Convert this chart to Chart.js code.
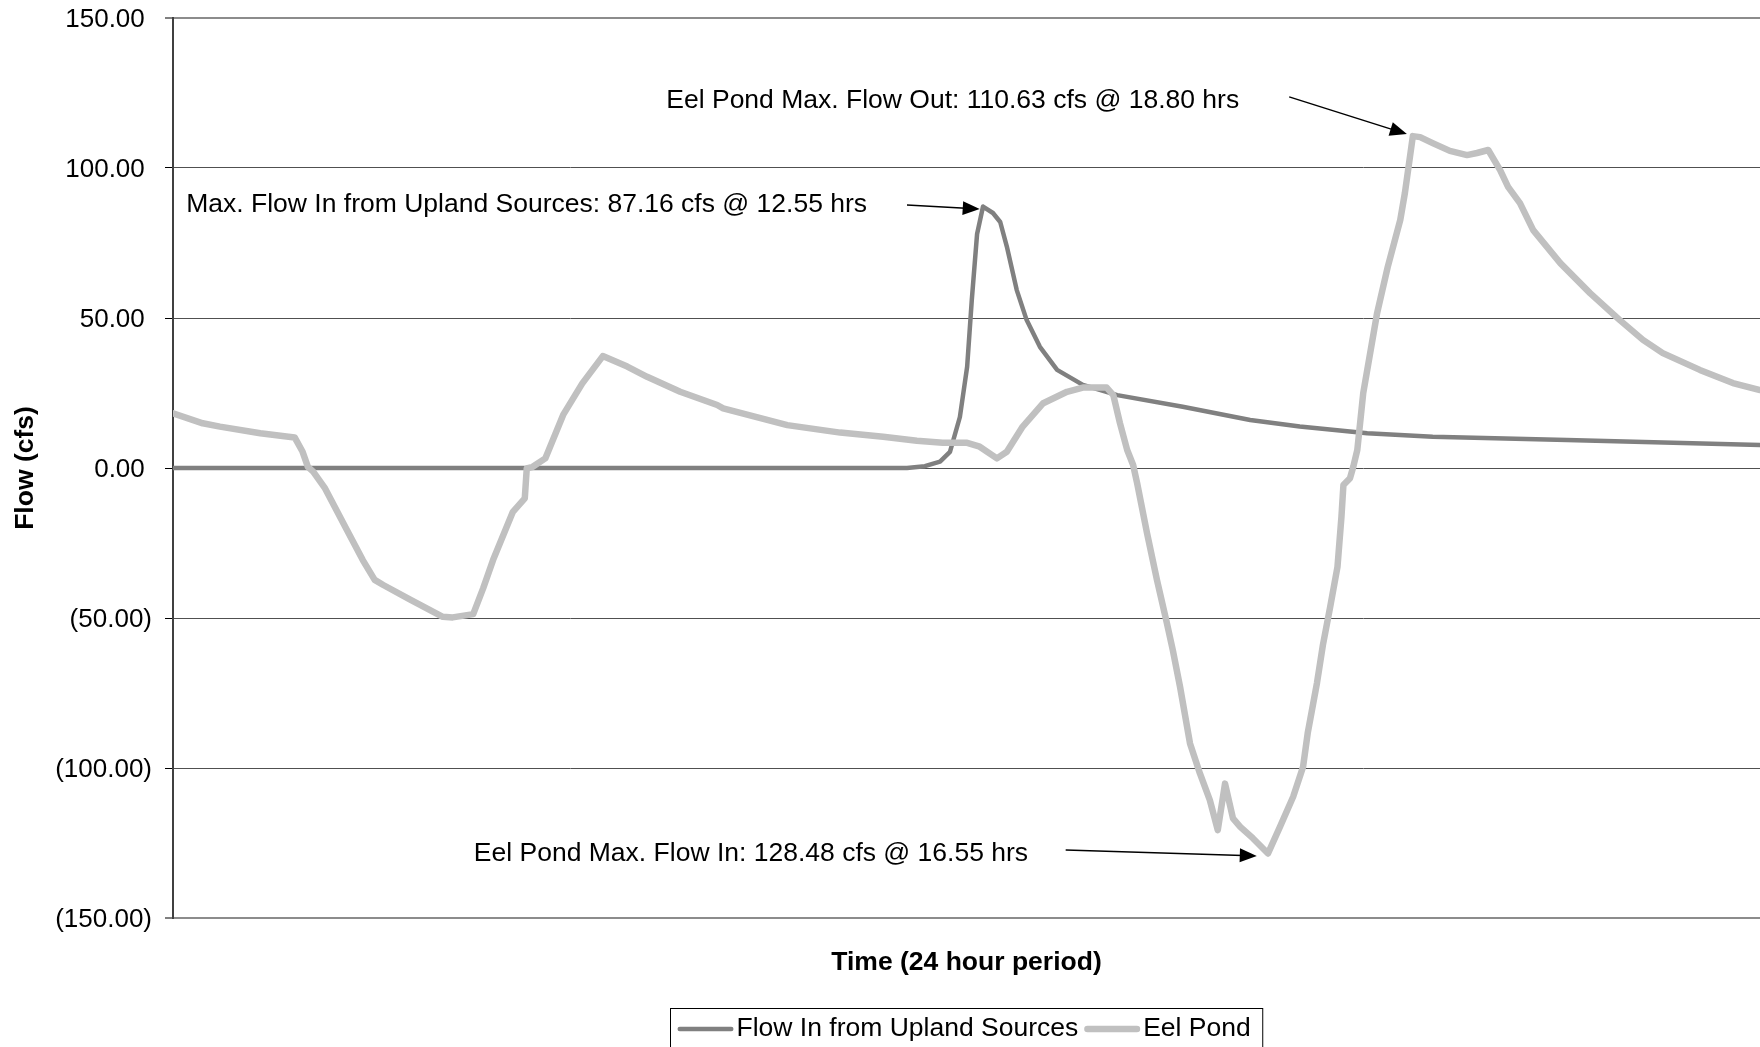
<!DOCTYPE html>
<html>
<head>
<meta charset="utf-8">
<title>Eel Pond Flow</title>
<script src="https://cdn.jsdelivr.net/npm/chart.js@4.4.0/dist/chart.umd.min.js"></script>
<style>
  html, body { margin: 0; padding: 0; background: #fff; }
</style>
</head>
<body>
<canvas id="flowChart" width="1760" height="1047"></canvas>
<script>
// time in hours over the 24 hour period, flow in cfs
const eelHours = [0.00, 0.45, 0.71, 1.32, 1.84, 1.96, 2.04, 2.12, 2.30, 2.63, 2.87, 3.05, 3.18, 3.58, 4.08, 4.23,
  4.54, 4.69, 4.84, 5.14, 5.32, 5.35, 5.44, 5.63, 5.90, 6.19, 6.50, 6.87, 7.17, 7.52, 7.67, 8.23, 8.32, 9.29,
  10.09, 10.74, 11.25, 11.64, 12.01, 12.20, 12.46, 12.61, 12.85, 13.16, 13.52, 13.76, 14.12, 14.22, 14.32,
  14.43, 14.52, 14.58, 14.73, 14.88, 15.03, 15.12, 15.23, 15.38, 15.53, 15.68, 15.80, 15.91, 16.03, 16.14,
  16.33, 16.56, 16.74, 16.94, 17.09, 17.16, 17.30, 17.39, 17.50, 17.61, 17.67, 17.70, 17.80, 17.85, 17.91,
  18.00, 18.21, 18.37, 18.56, 18.63, 18.75, 18.86, 19.05, 19.31, 19.57, 19.72, 19.89, 20.07, 20.19, 20.37,
  20.57, 20.98, 21.43, 21.88, 22.23, 22.53, 23.09, 23.59, 24.00];
const eelFlow = [18.2, 14.9, 13.8, 11.6, 10.2, 5.4, 0.4, -1.2, -6.8, -20.7, -30.7, -37.3, -39.0, -43.8, -49.6, -49.8,
  -48.7, -40.1, -30.7, -14.6, -10.1, -0.1, 0.4, 3.2, 17.7, 28.2, 37.3, 33.8, 30.4, 26.9, 25.4, 21.0, 19.9, 14.3,
  11.8, 10.4, 9.1, 8.4, 8.4, 7.1, 3.2, 5.4, 13.8, 21.6, 25.4, 26.8, 26.8, 24.3, 15.0,
  6.0, 1.0, -5.0, -21.7, -37.3, -51.7, -60.7, -73.0, -91.8, -101.8, -110.7, -120.7, -105.2, -116.8, -119.6,
  -123.4, -128.48, -119.6, -109.6, -99.6, -88.4, -71.7, -59.0, -46.3, -33.0, -16.3, -5.7, -3.4, 0.5, 6.0,
  25.0, 51.7, 67.0, 82.7, 91.7, 110.63, 110.3, 108.3, 105.7, 104.3, 105.0, 106.0, 99.3, 93.7, 88.3,
  79.3, 68.3, 58.3, 49.3, 42.7, 38.3, 32.7, 28.3, 26.0];

const uplandHours = [0.00, 11.10, 11.37, 11.60, 11.75, 11.90, 12.01, 12.08, 12.16, 12.25, 12.40, 12.51, 12.61,
  12.76, 12.91, 13.11, 13.37, 13.76, 14.28, 15.27, 16.29, 17.04, 18.06, 19.05, 21.08, 24.00];
const uplandFlow = [0, 0, 0.6, 2.1, 5.4, 17.0, 33.8, 56.0, 78.0, 87.16, 85.0, 82.0, 73.8,
  59.3, 49.3, 40.4, 32.7, 27.7, 24.3, 20.4, 16.0, 13.8, 11.6, 10.4, 9.3, 7.7];

const yTicks = [150, 100, 50, 0, -50, -100, -150];

const notes = [
  { text: 'Eel Pond Max. Flow Out: 110.63 cfs @ 18.80 hrs', at: [7.46, 122.4], from: [16.88, 123.7], to: [18.66, 111.3] },
  { text: 'Max. Flow In from Upland Sources: 87.16 cfs @ 12.55 hrs', at: [0.20, 87.8], from: [11.10, 87.7], to: [12.20, 86.3] },
  { text: 'Eel Pond Max. Flow In: 128.48 cfs @ 16.55 hrs', at: [4.55, -128.6], from: [13.50, -127.3], to: [16.39, -129.3] }
];

const FONT = '"Liberation Sans", Arial, sans-serif';
Chart.defaults.font.family = FONT;
Chart.defaults.font.size = 26.5;
Chart.defaults.color = '#000';

const toPoints = (xs, ys) => xs.map((h, i) => ({ x: h, y: ys[i] }));

function fmt(v) {
  const s = Math.abs(v).toFixed(2);
  return v < 0 ? '(' + s + ')' : s + ' ';
}

const extrasPlugin = {
  id: 'extras',
  afterDraw(chart) {
    const { ctx, chartArea, scales: { x, y } } = chart;
    ctx.save();
    ctx.font = '26.5px ' + FONT;
    ctx.fillStyle = '#000';
    ctx.strokeStyle = '#000';
    ctx.textBaseline = 'middle';

    notes.forEach(n => {
      ctx.fillText(n.text, x.getPixelForValue(n.at[0]), y.getPixelForValue(n.at[1]));
      const x1 = x.getPixelForValue(n.from[0]), y1 = y.getPixelForValue(n.from[1]);
      const x2 = x.getPixelForValue(n.to[0]), y2 = y.getPixelForValue(n.to[1]);
      const a = Math.atan2(y2 - y1, x2 - x1), c = Math.cos(a), s = Math.sin(a);
      ctx.lineWidth = 1.5;
      ctx.beginPath();
      ctx.moveTo(x1, y1);
      ctx.lineTo(x2 - 14 * c, y2 - 14 * s);
      ctx.stroke();
      ctx.beginPath();
      ctx.moveTo(x2, y2);
      ctx.lineTo(x2 - 17 * c + 7 * s, y2 - 17 * s - 7 * c);
      ctx.lineTo(x2 - 17 * c - 7 * s, y2 - 17 * s + 7 * c);
      ctx.closePath();
      ctx.fill();
    });

    // legend box under the axis title
    const items = chart.data.datasets.map(d => ({
      label: d.label, color: d.borderColor, width: d.borderWidth, w: ctx.measureText(d.label).width
    }));
    const sample = 56, gap = 3, sep = 6, padL = 7, padR = 12;
    let total = padL + padR + sep * (items.length - 1);
    items.forEach(it => { total += sample + gap + it.w; });
    const boxLeft = Math.round((chartArea.left + chartArea.right) / 2 - total / 2) + 0.5;
    const boxTop = 1008.5, rowY = 1029;
    ctx.lineWidth = 1;
    ctx.strokeStyle = '#000';
    ctx.strokeRect(boxLeft, boxTop, total, 80);
    let cx = boxLeft + padL;
    items.forEach(it => {
      ctx.strokeStyle = it.color;
      ctx.lineWidth = it.width;
      ctx.lineCap = 'round';
      ctx.beginPath();
      ctx.moveTo(cx + it.width / 2, rowY);
      ctx.lineTo(cx + sample - it.width / 2, rowY);
      ctx.stroke();
      cx += sample + gap;
      ctx.fillText(it.label, cx, rowY);
      cx += it.w + sep;
    });
    ctx.restore();
  }
};

new Chart(document.getElementById('flowChart'), {
  type: 'line',
  data: {
    datasets: [
      {
        label: 'Flow In from Upland Sources',
        data: toPoints(uplandHours, uplandFlow),
        borderColor: '#808080',
        backgroundColor: '#808080',
        borderWidth: 4.5,
        order: 1
      },
      {
        label: 'Eel Pond',
        data: toPoints(eelHours, eelFlow),
        borderColor: '#c0c0c0',
        backgroundColor: '#c0c0c0',
        borderWidth: 6.5,
        order: 0
      }
    ]
  },
  options: {
    responsive: false,
    animation: false,
    layout: { padding: { top: 18, left: 0, right: 0, bottom: 0 } },
    elements: {
      point: { radius: 0 },
      line: { tension: 0, borderJoinStyle: 'round', borderCapStyle: 'round' }
    },
    plugins: {
      legend: { display: false },
      tooltip: { enabled: false }
    },
    scales: {
      x: {
        type: 'linear',
        min: 0,
        max: 24,
        ticks: { display: false },
        grid: { display: false },
        border: { display: false },
        title: {
          display: true,
          text: 'Time (24 hour period)',
          font: { size: 26.5, weight: 'bold' },
          padding: { top: 0, bottom: 68 }
        },
        afterFit(scale) {
          scale.height = 129;
          scale.paddingLeft = 0;
          scale.paddingRight = 0;
        }
      },
      y: {
        min: -150,
        max: 150,
        afterBuildTicks(scale) { scale.ticks = yTicks.map(v => ({ value: v })); },
        ticks: { padding: 13, labelOffset: 2, font: { size: 26 }, callback: v => fmt(v) },
        grid: {
          color: c => Math.abs(c.tick.value) === 150 ? '#8c8c8c' : '#505050',
          lineWidth: c => Math.abs(c.tick.value) === 150 ? 2 : 1,
          tickColor: '#000',
          tickWidth: 1,
          tickLength: 8
        },
        border: { color: '#404040', width: 2 },
        title: {
          display: true,
          text: 'Flow (cfs)',
          font: { size: 26.5, weight: 'bold' },
          padding: { top: 10, bottom: 0 }
        },
        afterFit(scale) {
          scale.width = 173;
          scale.paddingTop = 0;
          scale.paddingBottom = 0;
        }
      }
    }
  },
  plugins: [extrasPlugin]
});
</script>
</body>
</html>
